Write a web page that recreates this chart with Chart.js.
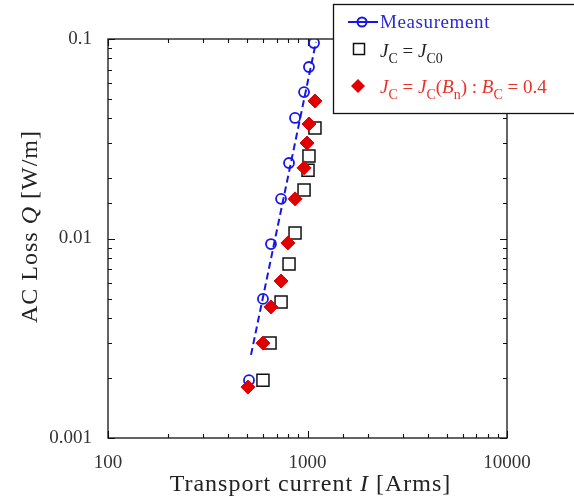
<!DOCTYPE html>
<html><head><meta charset="utf-8">
<script src="https://cdn.jsdelivr.net/npm/chart.js@4/dist/chart.umd.min.js"></script>
<style>html,body{margin:0;padding:0;background:#fff}#wrap{width:574px;height:502px}</style>
</head><body><div id="wrap"><canvas id="c" width="574" height="502"></canvas></div>
<script>
// ---- data ----
const measI = [1078, 1017, 961, 866, 808, 737, 656, 598, 509];
const measQ = [0.0955, 0.0724, 0.0542, 0.0402, 0.0239, 0.0158, 0.00938, 0.00498, 0.00195];
const jc0I  = [1090, 1017, 1006, 961, 866, 808, 737, 649, 598];
const jc0Q  = [0.0358, 0.0259, 0.0220, 0.0175, 0.01066, 0.00745, 0.00481, 0.00299, 0.00195];
const jcBnI = [1090, 1017, 995, 961, 866, 798, 737, 656, 598, 503];
const jcBnQ = [0.0489, 0.0375, 0.0301, 0.0226, 0.0158, 0.0095, 0.00612, 0.00454, 0.00299, 0.0018];
const fitI  = [521, 1103];
const fitQ  = [0.00261, 0.0966];
const xTickLabels = [100, 1000, 10000];
const yTickLabels = [0.001, 0.01, 0.1];

const FAM = '"Liberation Serif", "Times New Roman", serif';
const BLUE = '#1616e6';
const RED = '#e00000';

function pts(xs, ys) { return xs.map((x, i) => ({x: x, y: ys[i]})); }
function isLabel(list, v) { return list.find(t => Math.abs(v / t - 1) < 1e-6); }

function drawRich(ctx, segs, x, y, size, color, align) {
  const fontOf = s => (s.it ? 'italic ' : '') + (s.sub ? Math.round(size * 0.72) : size) + 'px ' + FAM;
  let total = 0;
  const w = segs.map(s => { ctx.font = fontOf(s); const m = ctx.measureText(s.t).width; total += m; return m; });
  let cx = align === 'center' ? x - total / 2 : x;
  ctx.fillStyle = color;
  ctx.textBaseline = 'alphabetic';
  ctx.textAlign = 'left';
  segs.forEach((s, i) => {
    ctx.font = fontOf(s);
    ctx.fillText(s.t, cx, y + (s.sub ? size * 0.32 : 0));
    cx += w[i];
  });
}

const framePlugin = {
  id: 'frame',
  beforeDatasetsDraw(chart) {
    const ctx = chart.ctx, a = chart.chartArea;
    const xs = chart.scales.x, ys = chart.scales.y;
    ctx.save();
    ctx.strokeStyle = '#111';
    ctx.lineWidth = 1.3;
    ctx.strokeRect(a.left, a.top, a.right - a.left, a.bottom - a.top);
    ctx.lineWidth = 1.1;
    ctx.beginPath();
    xs.ticks.forEach(t => {
      const lg = Math.log10(t.value);
      const major = Math.abs(lg - Math.round(lg)) < 1e-9;
      const L = major ? 7 : 4;
      const px = Math.round(xs.getPixelForValue(t.value)) + 0.5;
      ctx.moveTo(px, a.bottom); ctx.lineTo(px, a.bottom - L);
      ctx.moveTo(px, a.top); ctx.lineTo(px, a.top + L);
    });
    ys.ticks.forEach(t => {
      const lg = Math.log10(t.value);
      const major = Math.abs(lg - Math.round(lg)) < 1e-9;
      const L = major ? 7 : 4;
      const py = Math.round(ys.getPixelForValue(t.value)) + 0.5;
      ctx.moveTo(a.left, py); ctx.lineTo(a.left + L, py);
      ctx.moveTo(a.right, py); ctx.lineTo(a.right - L, py);
    });
    ctx.stroke();
    ctx.restore();
  },
  afterDraw(chart) {
    const ctx = chart.ctx, a = chart.chartArea;
    ctx.save();
    // axis titles
    ctx.letterSpacing = '1px';
    drawRich(ctx, [{t: 'Transport current '}, {t: 'I', it: true}, {t: ' [Arms]'}],
      (a.left + a.right) / 2 + 3, 491, 24, '#222', 'center');
    ctx.save();
    ctx.translate(37, (a.top + a.bottom) / 2 - 12);
    ctx.rotate(-Math.PI / 2);
    drawRich(ctx, [{t: 'AC Loss '}, {t: 'Q', it: true}, {t: ' [W/m]'}], 0, 0, 24, '#222', 'center');
    ctx.restore();
    ctx.letterSpacing = '0px';

    // legend box
    ctx.fillStyle = '#fff';
    ctx.fillRect(333, 4, 260, 109);
    ctx.strokeStyle = '#111';
    ctx.lineWidth = 1.3;
    ctx.strokeRect(333.5, 4.5, 260, 109);

    // entry 1 : Measurement
    ctx.strokeStyle = BLUE; ctx.lineWidth = 2;
    ctx.beginPath(); ctx.moveTo(348, 22); ctx.lineTo(378, 22); ctx.stroke();
    ctx.fillStyle = '#fff';
    ctx.beginPath(); ctx.arc(362, 22, 4.5, 0, Math.PI * 2); ctx.fill(); ctx.stroke();
    ctx.beginPath(); ctx.moveTo(357, 22); ctx.lineTo(367, 22); ctx.stroke();
    ctx.letterSpacing = '0.6px';
    drawRich(ctx, [{t: 'Measurement'}], 380, 28, 19, '#2a2ad6', 'left');
    ctx.letterSpacing = '0px';

    // entry 2 : Jc = Jc0
    ctx.strokeStyle = '#111'; ctx.lineWidth = 1.5;
    ctx.strokeRect(353.5, 43.5, 11, 11);
    drawRich(ctx, [{t: 'J', it: true}, {t: 'C', sub: true}, {t: ' = '}, {t: 'J', it: true}, {t: 'C0', sub: true}],
      380, 57, 19, '#222', 'left');

    // entry 3 : Jc = Jc(Bn) : Bc = 0.4
    ctx.fillStyle = RED;
    ctx.beginPath();
    ctx.moveTo(358, 79); ctx.lineTo(365, 86); ctx.lineTo(358, 93); ctx.lineTo(351, 86); ctx.closePath();
    ctx.fill();
    drawRich(ctx, [{t: 'J', it: true}, {t: 'C', sub: true}, {t: ' = '}, {t: 'J', it: true}, {t: 'C', sub: true},
      {t: '('}, {t: 'B', it: true}, {t: 'n', sub: true}, {t: ') : '}, {t: 'B', it: true}, {t: 'C', sub: true},
      {t: ' = 0.4'}], 380, 93, 19, '#e63228', 'left');
    ctx.restore();
  }
};

new Chart(document.getElementById('c'), {
  type: 'scatter',
  data: {
    datasets: [
      {label: 'Jc = Jc(Bn) : Bc = 0.4', data: pts(jcBnI, jcBnQ), pointStyle: 'rectRot', pointRadius: 7,
        backgroundColor: RED, borderColor: RED, borderWidth: 1, showLine: false, order: 1},
      {label: 'Jc = Jc0', data: pts(jc0I, jc0Q), pointStyle: 'rect', pointRadius: 8.5,
        backgroundColor: 'rgba(255,255,255,0)', borderColor: '#111', borderWidth: 1.5, showLine: false, order: 2},
      {label: 'Measurement', data: pts(measI, measQ), pointStyle: 'circle', pointRadius: 5,
        backgroundColor: 'rgba(255,255,255,0)', borderColor: BLUE, borderWidth: 1.8, showLine: false, order: 3},
      {label: 'fit', data: pts(fitI, fitQ), showLine: true, pointRadius: 0, borderColor: BLUE,
        borderWidth: 2, borderDash: [7, 4], order: 4}
    ]
  },
  options: {
    responsive: false, animation: false, devicePixelRatio: 1,
    layout: {padding: {left: 0, right: 67, top: 39, bottom: 0}},
    plugins: {legend: {display: false}, tooltip: {enabled: false}},
    scales: {
      x: {type: 'logarithmic', min: 100, max: 10000, position: 'bottom',
        grid: {display: false}, border: {display: false},
        ticks: {autoSkip: false, maxRotation: 0, padding: 6, color: '#333',
          font: {family: FAM, size: 19},
          callback: v => { const t = isLabel(xTickLabels, v); return t ? String(t) : ''; }},
        afterFit: s => { s.height = 64; }
      },
      y: {type: 'logarithmic', min: 0.001, max: 0.1, position: 'left',
        grid: {display: false}, border: {display: false},
        ticks: {autoSkip: false, padding: 8, color: '#333',
          font: {family: FAM, size: 19},
          callback: v => { const t = isLabel(yTickLabels, v); return t ? String(t) : ''; }},
        afterFit: s => { s.width = 108; }
      }
    }
  },
  plugins: [framePlugin]
});
</script>
</body></html>
